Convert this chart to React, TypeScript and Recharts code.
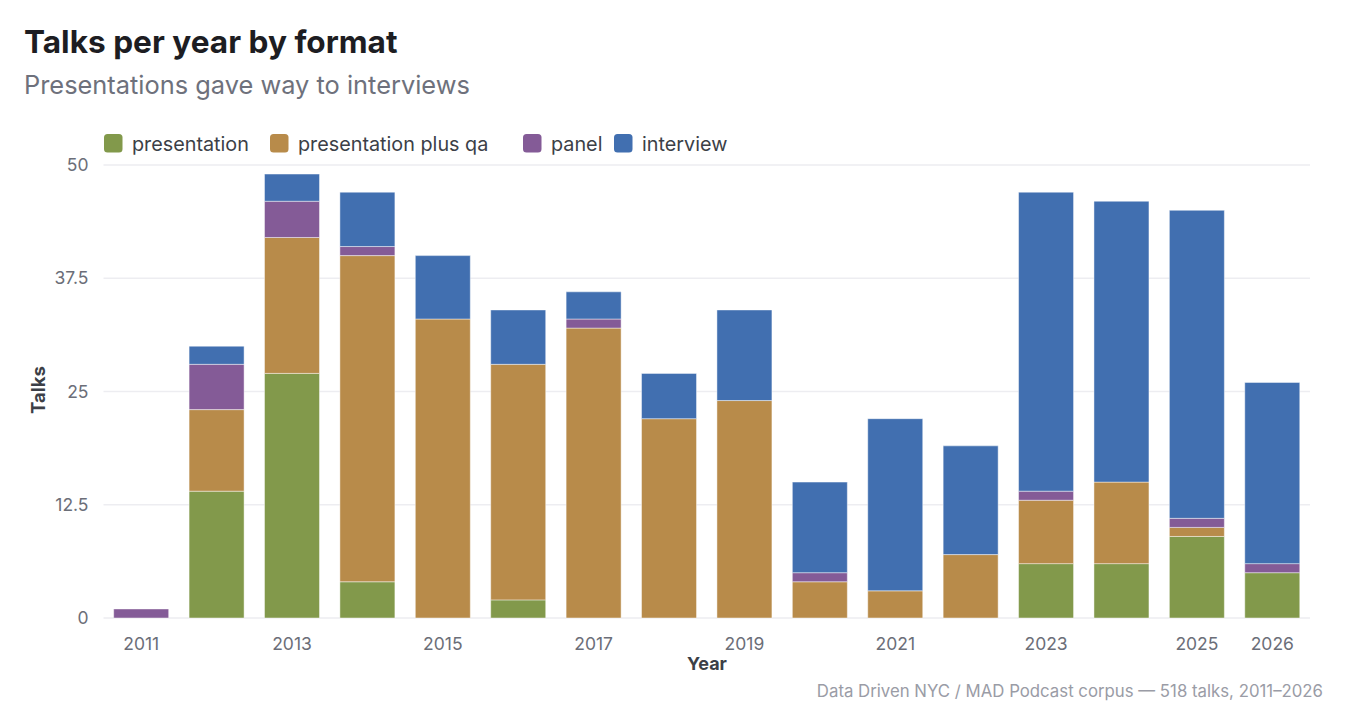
import React from 'react';
import { BarChart, Bar, XAxis, YAxis, CartesianGrid } from 'recharts';

const years = ['2011', '2012', '2013', '2014', '2015', '2016', '2017', '2018', '2019', '2020', '2021', '2022', '2023', '2024', '2025', '2026'];
const presentation = [0, 14, 27, 4, 0, 2, 0, 0, 0, 0, 0, 0, 6, 6, 9, 5];
const presentationPlusQa = [0, 9, 15, 36, 33, 26, 32, 22, 24, 4, 3, 7, 7, 9, 1, 0];
const panel = [1, 5, 4, 1, 0, 0, 1, 0, 0, 1, 0, 0, 1, 0, 1, 1];
const interview = [0, 2, 3, 6, 7, 6, 3, 5, 10, 10, 19, 12, 33, 31, 34, 20];
const yTicks = [0, 12.5, 25, 37.5, 50];
const shownYears = ['2011', '2013', '2015', '2017', '2019', '2021', '2023', '2025', '2026'];

const seriesNames = ['presentation', 'presentation plus qa', 'panel', 'interview'];
const seriesKeys = ['presentation', 'presentationPlusQa', 'panel', 'interview'];
const seriesColors = ['#82994b', '#b88b4a', '#845b97', '#416fb0'];
const legendX = [104, 270, 523, 614];

const data = years.map((y, i) => ({
  year: y,
  presentation: presentation[i],
  presentationPlusQa: presentationPlusQa[i],
  panel: panel[i],
  interview: interview[i],
}));

const FONT = 'Inter, "Noto Sans", sans-serif';

export default function App() {
  return (
    <div style={{ position: 'absolute', left: 0, top: 0, width: 1358, height: 724, background: '#fff', fontFamily: FONT }}>
      <BarChart
        width={1358}
        height={724}
        data={data}
        margin={{ top: 165, right: 48, bottom: 66, left: 0 }}
        barCategoryGap="13.5%"
      >
        <CartesianGrid vertical={false} stroke="#ededf1" strokeWidth={1.5} />
        <XAxis
          dataKey="year"
          height={40}
          interval={0}
          axisLine={false}
          tickLine={false}
          tickSize={0}
          tickMargin={20}
          tickFormatter={(v: string) => (shownYears.includes(v) ? v : '')}
          tick={{ fill: '#6b6e78', fontSize: 17.5, fontFamily: FONT }}
        />
        <YAxis
          width={103.5}
          domain={[0, 50]}
          ticks={yTicks}
          axisLine={false}
          tickLine={false}
          tickSize={0}
          tickMargin={15}
          tick={{ fill: '#6b6e78', fontSize: 17.5, fontFamily: FONT }}
        />
        {seriesKeys.map((k, i) => (
          <Bar
            key={k}
            dataKey={k}
            name={seriesNames[i]}
            stackId="a"
            fill={seriesColors[i]}
            stroke="rgba(255,255,255,0.45)"
            strokeWidth={1}
            isAnimationActive={false}
          />
        ))}
      </BarChart>
      <svg width={1358} height={724} style={{ position: 'absolute', left: 0, top: 0, pointerEvents: 'none' }}>
        <text x={24} y={53} fontSize={31.6} fontWeight={700} fill="#1d1d22" fontFamily={FONT}>Talks per year by format</text>
        <text x={24} y={94} fontSize={25.4} fill="#6e717c" fontFamily={FONT}>Presentations gave way to interviews</text>
        {seriesNames.map((n, i) => (
          <g key={n}>
            <rect x={legendX[i]} y={134} width={18.5} height={18.5} rx={3.5} fill={seriesColors[i]} />
            <text x={legendX[i] + 28} y={151} fontSize={19.8} fill="#3c3f47" fontFamily={FONT}>{n}</text>
          </g>
        ))}
        <text x={45} y={390} transform="rotate(-90 45 390)" textAnchor="middle" fontSize={18.5} fontWeight={700} fill="#3c3f47" fontFamily={FONT}>Talks</text>
        <text x={707} y={670} textAnchor="middle" fontSize={18} fontWeight={700} fill="#3c3f47" fontFamily={FONT}>Year</text>
        <text x={1323} y={697} textAnchor="end" fontSize={16.8} fill="#9a9ca6" fontFamily={FONT}>Data Driven NYC / MAD Podcast corpus — 518 talks, 2011–2026</text>
      </svg>
    </div>
  );
}
